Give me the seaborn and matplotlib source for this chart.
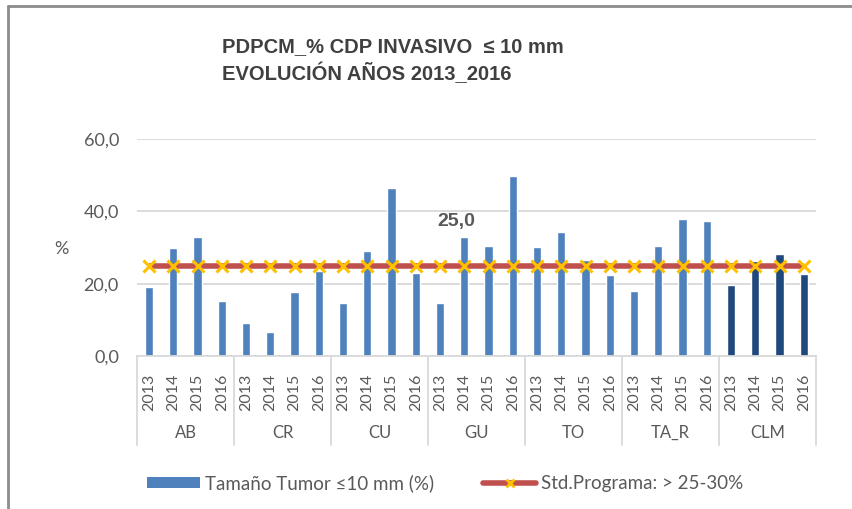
import numpy as np
import pandas as pd
import matplotlib
matplotlib.use("Agg")
import matplotlib.pyplot as plt
import matplotlib.transforms as mtransforms
from matplotlib.lines import Line2D
from matplotlib.patches import Patch
import seaborn as sns
from matplotlib import font_manager

# --------------------
# Data
# --------------------
groups = ["AB", "CR", "CU", "GU", "TO", "TA_R", "CLM"]
years = ["2013", "2014", "2015", "2016"]
tumor_pct = [
    19.0, 29.8, 33.0, 15.3,   # AB
    9.2, 6.5, 17.7, 23.4,     # CR
    14.6, 28.9, 46.4, 22.9,   # CU
    14.6, 33.0, 30.3, 49.9,   # GU
    30.1, 34.3, 26.5, 22.5,   # TO
    17.9, 30.5, 37.8, 37.2,   # TA_R
    19.6, 26.2, 28.2, 22.7,   # CLM
]
std_programa = [25.0] * len(tumor_pct)
label_value = "25,0"

df = pd.DataFrame({
    "grupo": np.repeat(groups, len(years)),
    "anio": years * len(groups),
    "valor": tumor_pct,
    "std": std_programa,
})
df["key"] = df["grupo"] + "_" + df["anio"]
df["tipo"] = np.where(df["grupo"] == "CLM", "CLM", "prov")
df["idx"] = np.arange(len(df))

# --------------------
# Fonts
# --------------------
sns.set_theme(style="white")
names = {f.name for f in font_manager.fontManager.ttflist}
body_font = ["Lato", "DejaVu Sans"]
title_font = ["Liberation Sans Narrow", "Liberation Sans", "DejaVu Sans"]
narrow = "Liberation Sans Narrow" in names
plt.rcParams["font.family"] = body_font

GRAY = "#595959"
GRID = "#D9D9D9"

fig = plt.figure(figsize=(8.53, 5.09), dpi=100)
ax = fig.add_axes([0.1606, 0.3006, 0.796, 0.4263])

sns.barplot(data=df, x="key", y="valor", hue="tipo", order=df["key"],
            palette={"prov": "#4F81BD", "CLM": "#1F497D"}, dodge=False,
            saturation=1, width=0.34, legend=False, ax=ax, zorder=2)

ax.plot(df["idx"], df["std"], color="#C0504D", lw=4, zorder=3,
        marker="x", markersize=8, mew=2.2, mec="#FFC000", solid_capstyle="butt")

ax.text(12.65, 37.3, label_value, ha="center", va="center", fontsize=14,
        fontweight="bold", color=GRAY, family=["Liberation Sans", "DejaVu Sans"])

# axes styling
ax.set_xlim(-0.5, len(df) - 0.5)
ax.set_ylim(0, 60)
ax.set_yticks([0, 20, 40, 60])
ax.set_yticklabels(["0,0", "20,0", "40,0", "60,0"], fontsize=13, color=GRAY)
ax.yaxis.grid(True, color=GRID, lw=1.3, zorder=0)
ax.set_axisbelow(True)
for s in ["top", "right", "left"]:
    ax.spines[s].set_visible(False)
ax.spines["bottom"].set_color(GRID)
ax.spines["bottom"].set_linewidth(1.3)
ax.tick_params(axis="y", length=0, pad=13)
ax.tick_params(axis="x", length=0, pad=13)
ax.set_xticks(df["idx"])
ax.set_xticklabels(df["anio"], rotation=90, fontsize=11.5, color=GRAY, va="top")
ax.set_xlabel("")
ax.set_ylabel("%", rotation=0, fontsize=13, color=GRAY, va="center", ha="center")
ax.yaxis.set_label_coords(-0.112, 0.495)

# category separators and group labels
trans = mtransforms.blended_transform_factory(ax.transData, ax.transAxes)
for g in range(len(groups) + 1):
    xs = g * len(years) - 0.5
    ax.plot([xs, xs], [0, -0.41], color=GRID, lw=1.3, transform=trans, clip_on=False)
for g, name in enumerate(groups):
    xc = g * len(years) + (len(years) - 1) / 2
    ax.text(xc, -0.355, name, transform=trans, ha="center", va="center",
            fontsize=12, color=GRAY)

# title
tsize = 14 if narrow else 14.5
fig.text(222 / 853, 1 - 47 / 509, "PDPCM_% CDP INVASIVO  \u2264 10 mm",
         ha="left", va="center", fontsize=tsize, fontweight="bold",
         color="#404040", family=title_font)
fig.text(222 / 853, 1 - 73 / 509, "EVOLUCI\u00d3N A\u00d1OS 2013_2016",
         ha="left", va="center", fontsize=tsize, fontweight="bold",
         color="#404040", family=title_font)

# legend
handles = [
    Patch(facecolor="#4F81BD", edgecolor="none"),
    Line2D([0], [0], color="#C0504D", lw=4, marker="x", markersize=6,
           mew=2, mec="#FFC000"),
]
fig.legend(handles, ["Tama\u00f1o Tumor \u226410 mm (%)", "Std.Programa: > 25-30%"],
           loc="center left", bbox_to_anchor=(130 / 853, 1 - 483 / 509), ncol=2,
           frameon=False, fontsize=13.5, handlelength=2.85, handleheight=0.55,
           handletextpad=0.25, columnspacing=2.6, labelcolor=GRAY)

# frame (top and left edges visible)
fig.add_artist(Line2D([8 / 853, 1], [1 - 6 / 509, 1 - 6 / 509], color="#8C8C8C",
                      lw=2, transform=fig.transFigure))
fig.add_artist(Line2D([8 / 853, 8 / 853], [0, 1 - 6 / 509], color="#8C8C8C",
                      lw=2, transform=fig.transFigure))

fig.savefig("out.png", dpi=100)
